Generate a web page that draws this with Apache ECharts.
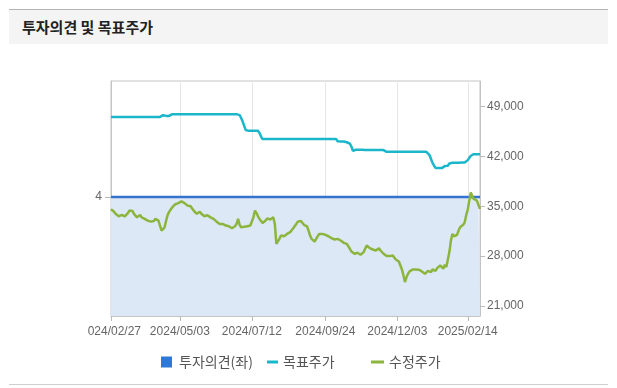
<!DOCTYPE html>
<html>
<head>
<meta charset="utf-8">
<script src="https://cdn.jsdelivr.net/npm/echarts@6/dist/echarts.min.js"></script>
<style>
  html, body { margin:0; padding:0; background:#fff; width:617px; height:388px; overflow:hidden; }
  #topline { position:absolute; left:9px; top:9px; width:599px; height:1px; background:#b4b4b4; }
  #head { position:absolute; left:9px; top:10px; width:599px; height:34px; background:#f4f4f4;
          font-family:"Noto Sans CJK KR", sans-serif; font-weight:bold; font-size:15px; color:#222;
          line-height:34px; box-sizing:border-box; padding-left:13px; }
  #botline { position:absolute; left:9px; top:384px; width:599px; height:1px; background:#cfcfcf; }
  #chart { position:absolute; left:88px; top:45px; width:520px; height:338px; }
</style>
</head>
<body>
<div id="topline"></div>
<div id="head">투자의견 및 목표주가</div>
<div id="chart"></div>
<div id="botline"></div>
<script>
// Korean trading days shown on the x axis (month -> days)
const tradingDays = [
  ['2024/02', [27,28,29]],
  ['2024/03', [4,5,6,7,8,11,12,13,14,15,18,19,20,21,22,25,26,27,28,29]],
  ['2024/04', [1,2,3,4,5,8,9,11,12,15,16,17,18,19,22,23,24,25,26,29,30]],
  ['2024/05', [2,3,7,8,9,10,13,14,16,17,20,21,22,23,24,27,28,29,30,31]],
  ['2024/06', [3,4,5,7,10,11,12,13,14,17,18,19,20,21,24,25,26,27,28]],
  ['2024/07', [1,2,3,4,5,8,9,10,11,12,15,16,17,18,19,22,23,24,25,26,29,30,31]],
  ['2024/08', [1,2,5,6,7,8,9,12,13,14,16,19,20,21,22,23,26,27,28,29,30]],
  ['2024/09', [2,3,4,5,6,9,10,11,12,13,19,20,23,24,25,26,27,30]],
  ['2024/10', [2,4,7,8,10,11,14,15,16,17,18,21,22,23,24,25,28,29,30,31]],
  ['2024/11', [1,4,5,6,7,8,11,12,13,14,15,18,19,20,21,22,25,26,27,28,29]],
  ['2024/12', [2,3,4,5,6,9,10,11,12,13,16,17,18,19,20,23,24,26,27,30]],
  ['2025/01', [2,3,6,7,8,9,10,13,14,15,16,17,20,21,22,23,24,31]],
  ['2025/02', [3,4,5,6,7,10,11,12,13,14,17,18,19,20,21,24,25,26]]
];
const categories = [];
tradingDays.forEach(([m, days]) => days.forEach(d => categories.push(m + '/' + String(d).padStart(2, '0'))));

const xTickLabels = ['2024/02/27','2024/05/03','2024/07/12','2024/09/24','2024/12/03','2025/02/14'];
const rightTicks = [21000, 28000, 35000, 42000, 49000];
const leftTicks = [4];

// 투자의견 (left axis)
const opinion = [
  4,4,4,4,4,4,4,4,4,4,4,4,4,4,4,4,4,4,4,4,
  4,4,4,4,4,4,4,4,4,4,4,4,4,4,4,4,4,4,4,4,
  4,4,4,4,4,4,4,4,4,4,4,4,4,4,4,4,4,4,4,4,
  4,4,4,4,4,4,4,4,4,4,4,4,4,4,4,4,4,4,4,4,
  4,4,4,4,4,4,4,4,4,4,4,4,4,4,4,4,4,4,4,4,
  4,4,4,4,4,4,4,4,4,4,4,4,4,4,4,4,4,4,4,4,
  4,4,4,4,4,4,4,4,4,4,4,4,4,4,4,4,4,4,4,4,
  4,4,4,4,4,4,4,4,4,4,4,4,4,4,4,4,4,4,4,4,
  4,4,4,4,4,4,4,4,4,4,4,4,4,4,4,4,4,4,4,4,
  4,4,4,4,4,4,4,4,4,4,4,4,4,4,4,4,4,4,4,4,
  4,4,4,4,4,4,4,4,4,4,4,4,4,4,4,4,4,4,4,4,
  4,4,4,4,4,4,4,4,4,4,4,4,4,4,4,4,4,4,4,4,
  4,4
];

// 목표주가 (right axis)
const target = [
  47560,47560,47560,47560,47560,47560,47560,47560,47560,47560,
  47560,47560,47560,47560,47560,47560,47560,47560,47560,47560,
  47560,47560,47560,47560,47560,47560,47560,47560,47560,47560,
  47560,47560,47560,47650,47800,47940,47700,47560,47700,47850,
  47940,47940,47940,47940,47940,47940,47940,47940,47940,47940,
  47940,47940,47940,47940,47940,47940,47940,47940,47940,47940,
  47940,47940,47940,47940,47940,47940,47940,47940,47940,47940,
  47940,47940,47940,47940,47940,47940,47940,47940,47940,47940,
  47940,47940,47940,47940,47800,47400,46900,46300,45700,45600,
  45600,45600,45600,45600,45600,45600,45600,45300,44800,44450,
  44450,44450,44450,44450,44450,44450,44450,44450,44450,44450,
  44450,44450,44450,44450,44450,44450,44450,44450,44450,44450,
  44450,44450,44450,44450,44450,44450,44450,44450,44450,44450,
  44450,44450,44450,44450,44450,44450,44450,44450,44450,44450,
  44450,44450,44450,44450,44450,44450,44450,44450,44150,44100,
  44100,44100,44100,44100,44000,43900,43800,43400,42800,42700,
  42950,43000,42950,42950,42950,42950,42900,42900,42900,42900,
  42900,42900,42900,42900,42900,42900,42900,42900,42900,42750,
  42660,42660,42660,42660,42660,42660,42660,42660,42660,42660,
  42660,42660,42660,42660,42660,42660,42660,42660,42660,42660,
  42660,42660,42660,42660,42660,42660,42660,42500,42200,41650,
  41100,40700,40370,40370,40370,40370,40370,40460,40650,40790,
  40700,41020,41110,41110,41110,41110,41110,41110,41150,41150,
  41150,41150,41300,41490,41770,42100,42280,42330,42330,42330,
  42330,42330
];

// 수정주가 (right axis)
const price = [
  34600,34500,34250,33950,33800,33600,33450,33800,33950,33600,
  33450,34050,34400,34250,34350,33950,33700,33450,33600,33800,
  33450,33300,33250,33150,33000,32950,32850,32750,32950,33250,
  33300,33000,32300,31600,31450,32050,33000,33800,34250,34550,
  34850,35100,35300,35550,35450,35600,35700,35650,35450,35300,
  35100,35200,35000,34700,34400,34150,33950,34050,34250,33950,
  33700,33600,33800,33750,33700,33450,33300,33230,33000,32850,
  32670,32530,32400,32530,32400,32300,32400,32200,32070,31930,
  32020,32200,32530,33230,32400,32070,32070,32120,32120,32200,
  32200,32300,32400,33450,34400,34070,33600,33230,33000,32670,
  32530,33000,33300,33230,33150,33400,33450,32530,29730,29870,
  30430,30900,30900,30800,30670,31130,31370,31370,31600,31930,
  32200,32530,32850,33000,32950,32670,32400,32300,32200,31600,
  30900,30430,30200,30060,30200,30800,31130,31270,31130,30900,
  31000,31000,30800,30670,30530,30430,30340,30530,30430,30200,
  30200,30060,29870,29970,29730,29500,29040,28670,28480,28340,
  28570,28480,28340,28200,28340,28570,29040,29500,29400,29130,
  29040,28940,29040,28800,28940,29130,28800,28570,28340,28200,
  28010,27870,28010,28010,28100,27870,27540,27630,27260,26700,
  26140,25300,24370,25070,25530,25860,26050,26140,26140,26140,
  26100,26100,26000,25860,25670,25530,25670,25950,26000,25770,
  26140,26240,25950,26330,26520,26700,26470,26240,26800,26470,
  26700,28570,30200,31130,30800,30670,31000,31600,32070,32300,
  32400,32760,33800,34550,35800,36960,36400,36030,35940,35800,
  35200,34630
];

const chart = echarts.init(document.getElementById('chart'), null, { renderer: 'canvas' });
const showTick = (idx, val) => xTickLabels.indexOf(val) >= 0;
const lblFont = { fontFamily: 'Liberation Sans, Arial, sans-serif', fontSize: 12, color: '#666' };
const legendText = { fontFamily: '"Noto Sans CJK KR", sans-serif', fontSize: 14, color: '#555' };

chart.setOption({
  animation: false,
  backgroundColor: 'transparent',
  grid: { left: 23, top: 36, right: 128, bottom: 67, show: true, borderColor: '#c4c4c4', borderWidth: 1,
          containLabel: false, outerBoundsMode: 'none' },
  legend: [
    { data: ['투자의견(좌)'], left: 68, top: 305, icon: 'rect', itemWidth: 11, itemHeight: 11,
      textStyle: Object.assign({ padding: [0, 0, 0, 2] }, legendText), selectedMode: false },
    { data: ['목표주가'], left: 174, top: 305, icon: 'rect', itemWidth: 11, itemHeight: 3,
      textStyle: legendText, selectedMode: false },
    { data: ['수정주가'], left: 278, top: 305, icon: 'rect', itemWidth: 13, itemHeight: 3,
      textStyle: legendText, selectedMode: false }
  ],
  xAxis: {
    type: 'category', data: categories, boundaryGap: false,
    axisLine: { lineStyle: { color: '#c4c4c4' } },
    axisTick: { interval: showTick, length: 5, lineStyle: { color: '#bbb' } },
    axisLabel: Object.assign({ interval: showTick, margin: 10 }, lblFont),
    splitLine: { show: true, interval: showTick, lineStyle: { color: '#e6e6e6' } }
  },
  yAxis: [
    { type: 'value', position: 'left', min: 0, max: 7.9,
      axisLine: { show: true, lineStyle: { color: '#c4c4c4' } },
      axisTick: { show: true, length: 6, customValues: leftTicks, lineStyle: { color: '#bbb' } },
      axisLabel: Object.assign({ customValues: leftTicks, margin: 9 }, lblFont),
      splitLine: { show: false } },
    { type: 'value', position: 'right', min: 19600, max: 52600,
      axisLine: { show: true, lineStyle: { color: '#c4c4c4' } },
      axisTick: { show: true, length: 5, customValues: rightTicks, lineStyle: { color: '#bbb' } },
      axisLabel: Object.assign({ customValues: rightTicks, margin: 7,
        formatter: v => v.toLocaleString('en-US') }, lblFont),
      splitLine: { show: false } }
  ],
  series: [
    { name: '투자의견(좌)', type: 'line', yAxisIndex: 0, data: opinion, showSymbol: false, symbol: 'none',
      itemStyle: { color: '#2f78d6' }, lineStyle: { color: '#3474cf', width: 2.5 },
      areaStyle: { color: '#dde8f7', opacity: 1 }, z: 1 },
    { name: '목표주가', type: 'line', yAxisIndex: 1, data: target, showSymbol: false, symbol: 'none',
      itemStyle: { color: '#1cb6cb' }, lineStyle: { color: '#1cb6cb', width: 2.5 }, z: 2 },
    { name: '수정주가', type: 'line', yAxisIndex: 1, data: price, showSymbol: false, symbol: 'none',
      itemStyle: { color: '#8cb53d' }, lineStyle: { color: '#8cb53d', width: 2.5 }, z: 3 }
  ]
});
</script>
</body>
</html>
